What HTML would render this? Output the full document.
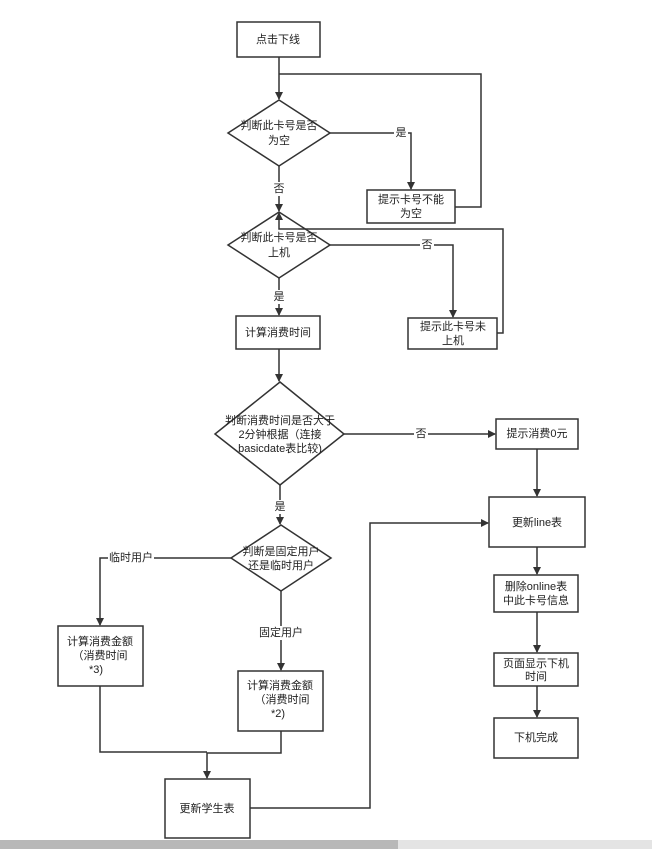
<!DOCTYPE html>
<html><head><meta charset="utf-8"><style>
html,body{margin:0;padding:0;background:#fff;width:652px;height:849px;overflow:hidden}
svg text{font-family:"Liberation Sans","Noto Sans CJK SC",sans-serif;font-size:11px;fill:#222;text-anchor:middle;dominant-baseline:central}
</style></head><body>
<svg width="652" height="849" viewBox="0 0 652 849" xmlns="http://www.w3.org/2000/svg">
<defs><marker id="a" markerWidth="8" markerHeight="8" refX="7" refY="4" orient="auto" markerUnits="userSpaceOnUse"><path d="M0,0 L8,4 L0,8 z" fill="#333"/></marker></defs>
<g fill="none" stroke="#333" stroke-width="1.5">
<rect x="237" y="22" width="83" height="35"/>
<polygon points="279,100 330,133 279,166 228,133" fill="#fff"/>
<rect x="367" y="190" width="88" height="33"/>
<polygon points="279,212 330,245 279,278 228,245" fill="#fff"/>
<rect x="408" y="318" width="89" height="31"/>
<rect x="236" y="316" width="84" height="33"/>
<polygon points="280,382 344,434 280,485 215,434" fill="#fff"/>
<rect x="496" y="419" width="82" height="30"/>
<rect x="489" y="497" width="96" height="50"/>
<polygon points="281,525 331,558 281,591 231,558" fill="#fff"/>
<rect x="58" y="626" width="85" height="60"/>
<rect x="238" y="671" width="85" height="60"/>
<rect x="165" y="779" width="85" height="59"/>
<rect x="494" y="575" width="84" height="37"/>
<rect x="494" y="653" width="84" height="33"/>
<rect x="494" y="718" width="84" height="40"/>
<path d="M279,57 V99" marker-end="url(#a)"/>
<path d="M455,207 H481 V74 H279"/>
<path d="M330,133 H411 V189" marker-end="url(#a)"/>
<path d="M279,166 V211" marker-end="url(#a)"/>
<path d="M330,245 H453 V317" marker-end="url(#a)"/>
<path d="M497,333 H503 V229 H279 V213" marker-end="url(#a)"/>
<path d="M279,278 V315" marker-end="url(#a)"/>
<path d="M279,349 V381" marker-end="url(#a)"/>
<path d="M344,434 H495" marker-end="url(#a)"/>
<path d="M537,449 V496" marker-end="url(#a)"/>
<path d="M280,485 V524" marker-end="url(#a)"/>
<path d="M231,558 H100 V625" marker-end="url(#a)"/>
<path d="M281,591 V670" marker-end="url(#a)"/>
<path d="M100,686 V752 H207"/>
<path d="M281,731 V753 H207 V778" marker-end="url(#a)"/>
<path d="M250,808 H370 V523 H488" marker-end="url(#a)"/>
<path d="M537,547 V574" marker-end="url(#a)"/>
<path d="M537,612 V652" marker-end="url(#a)"/>
<path d="M537,686 V717" marker-end="url(#a)"/>
</g>
<g>
<rect x="394" y="126" width="14" height="14" fill="#fff"/><text x="401" y="133">是</text>
<rect x="272" y="182" width="14" height="14" fill="#fff"/><text x="279" y="189">否</text>
<rect x="420" y="238" width="14" height="14" fill="#fff"/><text x="427" y="245">否</text>
<rect x="272" y="290" width="14" height="14" fill="#fff"/><text x="279" y="297">是</text>
<rect x="414" y="427" width="14" height="14" fill="#fff"/><text x="421" y="434">否</text>
<rect x="273" y="500" width="14" height="14" fill="#fff"/><text x="280" y="507">是</text>
<rect x="108" y="551" width="46" height="14" fill="#fff"/><text x="131" y="558">临时用户</text>
<rect x="258" y="626" width="46" height="14" fill="#fff"/><text x="281" y="633">固定用户</text>
<text x="278" y="40">点击下线</text>
<text x="279" y="126">判断此卡号是否</text><text x="279" y="141">为空</text>
<text x="411" y="200">提示卡号不能</text><text x="411" y="214">为空</text>
<text x="279" y="238">判断此卡号是否</text><text x="279" y="253">上机</text>
<text x="453" y="327">提示此卡号未</text><text x="453" y="341">上机</text>
<text x="278" y="333">计算消费时间</text>
<text x="280" y="421">判断消费时间是否大于</text><text x="280" y="435">2分钟根据（连接</text><text x="280" y="449">basicdate表比较)</text>
<text x="537" y="434">提示消费0元</text>
<text x="537" y="523">更新line表</text>
<text x="281" y="552">判断是固定用户</text><text x="281" y="566">还是临时用户</text>
<text x="100" y="642">计算消费金额</text><text x="100" y="656">（消费时间</text><text x="96" y="670">*3)</text>
<text x="280" y="686">计算消费金额</text><text x="282" y="700">（消费时间</text><text x="278" y="714">*2)</text>
<text x="207" y="809">更新学生表</text>
<text x="536" y="587">删除online表</text><text x="536" y="601">中此卡号信息</text>
<text x="536" y="664">页面显示下机</text><text x="536" y="677">时间</text>
<text x="536" y="738">下机完成</text>
</g>
<rect x="0" y="840" width="398" height="9" fill="#b8b8b8"/>
<rect x="398" y="840" width="254" height="9" fill="#e4e4e4"/>
</svg>
</body></html>
